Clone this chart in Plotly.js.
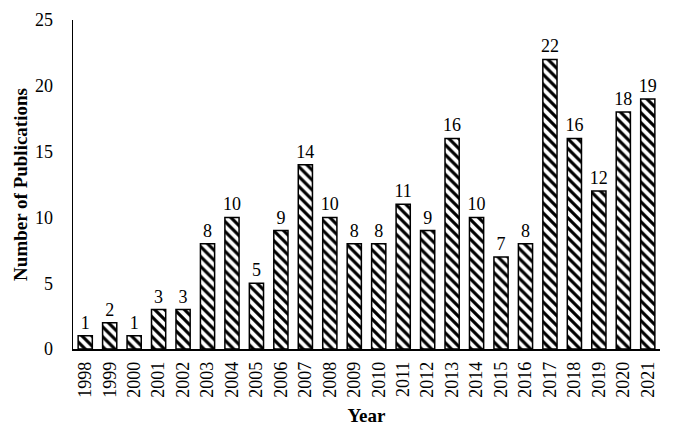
<!DOCTYPE html>
<html>
<head>
<meta charset="utf-8">
<script src="https://cdn.plot.ly/plotly-3.0.1.min.js"></script>
<style>html,body{margin:0;padding:0;background:#fff;}#chart{width:685px;height:437px;}</style>
</head>
<body>
<div id="chart"></div>
<script>
const years = ['1998','1999','2000','2001','2002','2003','2004','2005','2006','2007','2008','2009','2010','2011','2012','2013','2014','2015','2016','2017','2018','2019','2020','2021'];
const publications = [1,2,1,3,3,8,10,5,9,14,10,8,8,11,9,16,10,7,8,22,16,12,18,19];
const yTicks = [0,5,10,15,20,25];

const fontFam = 'Liberation Serif, Times New Roman, serif';

const trace = {
  type: 'bar',
  x: years,
  y: publications,
  text: publications.map(String),
  textposition: 'outside',
  constraintext: 'none',
  cliponaxis: false,
  textfont: {family: fontFam, size: 18, color: '#000'},
  marker: {
    color: '#fff',
    line: {color: '#000', width: 1.5},
    pattern: {shape: '\\', fgcolor: '#000', bgcolor: '#fff', size: 7, solidity: 0.45}
  },
  hoverinfo: 'none'
};

const layout = {
  width: 685, height: 437,
  margin: {l: 73, r: 25, t: 20, b: 88},
  paper_bgcolor: '#fff', plot_bgcolor: '#fff',
  bargap: 0.42,
  showlegend: false,
  font: {family: fontFam, color: '#000', size: 18},
  xaxis: {
    type: 'category',
    tickangle: -90,
    showline: true, linecolor: '#000', linewidth: 1.5,
    ticks: 'outside', ticklen: 4, tickcolor: 'rgba(0,0,0,0)',
    showgrid: false, zeroline: false,
    tickfont: {family: fontFam, size: 18, color: '#000'},
    title: {text: 'Year', font: {family: fontFam, size: 19, color: '#000', weight: 'bold'}, standoff: 12}
  },
  yaxis: {
    range: [0, 25],
    tickvals: yTicks,
    showline: true, linecolor: '#000', linewidth: 1.5,
    ticks: 'outside', ticklen: 15, tickcolor: 'rgba(0,0,0,0)',
    showgrid: false, zeroline: false,
    tickfont: {family: fontFam, size: 18, color: '#000'},
    title: {text: 'Number of Publications', font: {family: fontFam, size: 19, color: '#000', weight: 'bold'}, standoff: 2}
  }
};

Plotly.newPlot('chart', [trace], layout, {staticPlot: true, displayModeBar: false});
</script>
</body>
</html>
